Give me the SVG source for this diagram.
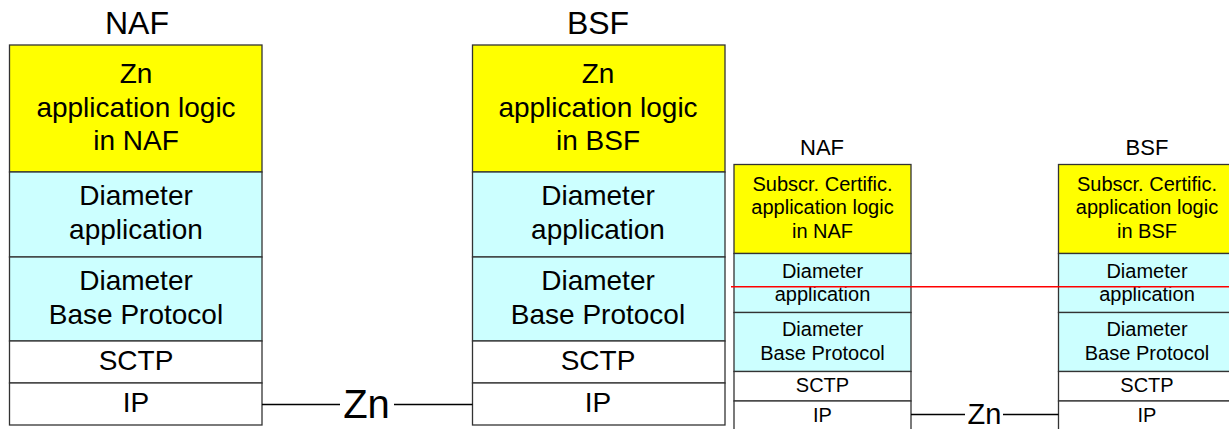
<svg xmlns="http://www.w3.org/2000/svg" width="1229" height="429" viewBox="0 0 1229 429">
<style>
.b{stroke:#333;stroke-width:1.3}
.y{fill:#FFFF00}
.c{fill:#CCFFFF}
.w{fill:#FFFFFF}
text{font-family:"Liberation Sans",Arial,sans-serif;fill:#000;text-anchor:middle}
.T{font-size:32px}
.t{font-size:22px}
.L{font-size:28px}
.S{font-size:20px}
.ln{stroke:#000;stroke-width:1.5;fill:none}
</style>
<rect width="1229" height="429" fill="#fff"/>
<g id="naf-big">
<text class="T" x="137" y="34">NAF</text>
<rect class="b y" x="9.5" y="45" width="252.5" height="127"/>
<rect class="b c" x="9.5" y="172" width="252.5" height="85"/>
<rect class="b c" x="9.5" y="257" width="252.5" height="84"/>
<rect class="b w" x="9.5" y="341" width="252.5" height="42"/>
<rect class="b w" x="9.5" y="383" width="252.5" height="42"/>
<text class="L" x="136" y="83">Zn</text>
<text class="L" x="136" y="117">application logic</text>
<text class="L" x="136" y="150">in NAF</text>
<text class="L" x="136" y="205">Diameter</text>
<text class="L" x="136" y="239">application</text>
<text class="L" x="136" y="290">Diameter</text>
<text class="L" x="136" y="324">Base Protocol</text>
<text class="L" x="136" y="370">SCTP</text>
<text class="L" x="136" y="412">IP</text>
</g>
<g id="bsf-big">
<text class="T" x="598" y="34">BSF</text>
<rect class="b y" x="472.5" y="45" width="252.5" height="127"/>
<rect class="b c" x="472.5" y="172" width="252.5" height="85"/>
<rect class="b c" x="472.5" y="257" width="252.5" height="84"/>
<rect class="b w" x="472.5" y="341" width="252.5" height="42"/>
<rect class="b w" x="472.5" y="383" width="252.5" height="42"/>
<text class="L" x="598" y="83">Zn</text>
<text class="L" x="598" y="117">application logic</text>
<text class="L" x="598" y="150">in BSF</text>
<text class="L" x="598" y="205">Diameter</text>
<text class="L" x="598" y="239">application</text>
<text class="L" x="598" y="290">Diameter</text>
<text class="L" x="598" y="324">Base Protocol</text>
<text class="L" x="598" y="370">SCTP</text>
<text class="L" x="598" y="412">IP</text>
</g>
<g id="naf-small">
<text class="t" x="822" y="155">NAF</text>
<rect class="b y" x="734" y="164.5" width="177" height="89"/>
<rect class="b c" x="734" y="253.5" width="177" height="59"/>
<rect class="b c" x="734" y="312.5" width="177" height="59"/>
<rect class="b w" x="734" y="371.5" width="177" height="29.5"/>
<rect class="b w" x="734" y="401" width="177" height="30"/>
<text class="S" x="822.5" y="190.5">Subscr. Certific.</text>
<text class="S" x="822.5" y="214">application logic</text>
<text class="S" x="822.5" y="237.5">in NAF</text>
<text class="S" x="822.5" y="278">Diameter</text>
<text class="S" x="822.5" y="300.5">application</text>
<text class="S" x="822.5" y="336">Diameter</text>
<text class="S" x="822.5" y="359.5">Base Protocol</text>
<text class="S" x="822.5" y="392">SCTP</text>
<text class="S" x="822.5" y="422">IP</text>
</g>
<g id="bsf-small">
<text class="t" x="1147" y="155">BSF</text>
<rect class="b y" x="1058.5" y="164.5" width="177" height="89"/>
<rect class="b c" x="1058.5" y="253.5" width="177" height="59"/>
<rect class="b c" x="1058.5" y="312.5" width="177" height="59"/>
<rect class="b w" x="1058.5" y="371.5" width="177" height="29.5"/>
<rect class="b w" x="1058.5" y="401" width="177" height="30"/>
<text class="S" x="1147" y="190.5">Subscr. Certific.</text>
<text class="S" x="1147" y="214">application logic</text>
<text class="S" x="1147" y="237.5">in BSF</text>
<text class="S" x="1147" y="278">Diameter</text>
<text class="S" x="1147" y="300.5">application</text>
<text class="S" x="1147" y="336">Diameter</text>
<text class="S" x="1147" y="359.5">Base Protocol</text>
<text class="S" x="1147" y="392">SCTP</text>
<text class="S" x="1147" y="422">IP</text>
</g>
<g id="connectors">
<line class="ln" x1="262" y1="404.5" x2="340" y2="404.5"/>
<text x="366.5" y="418" style="font-size:40px">Zn</text>
<line class="ln" x1="394" y1="404.5" x2="472.5" y2="404.5"/>
<line class="ln" x1="911" y1="414.5" x2="965" y2="414.5"/>
<text x="984.5" y="424" style="font-size:29px">Zn</text>
<line class="ln" x1="1003" y1="414.5" x2="1058.5" y2="414.5"/>
<line x1="731" y1="286.7" x2="1229" y2="286.7" stroke="#FF0000" stroke-width="1.6"/>
</g>
</svg>
